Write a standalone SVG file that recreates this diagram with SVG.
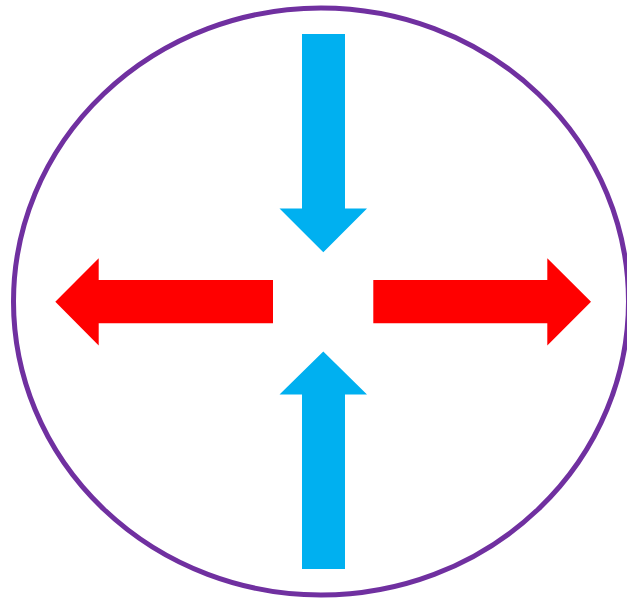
<svg xmlns="http://www.w3.org/2000/svg" width="627" height="600" viewBox="0 0 627 600">
<style>
.blue{fill:#00B0F0}
.red{fill:#FF0000}
.ring{fill:none;stroke:#7030A0;stroke-width:5}
</style>
<rect width="627" height="600" fill="#fff"/>
<g id="circle"><ellipse class="ring" cx="321" cy="301.5" rx="307.5" ry="293.5"/></g>
<g id="arrow-top"><polygon class="blue" points="302,34 345,34 345,208.5 367,208.5 323.3,252.3 279.5,208.5 302,208.5"/></g>
<g id="arrow-bottom"><polygon class="blue" points="302,569 345,569 345,394.5 367,394.5 323.3,351.5 279.5,394.5 302,394.5"/></g>
<g id="arrow-left"><polygon class="red" points="273,280 273,323.3 98.7,323.3 98.7,345.5 55.3,301.7 98.7,258.3 98.7,280"/></g>
<g id="arrow-right"><polygon class="red" points="373.3,280 373.3,323.3 547.3,323.3 547.3,345.5 591,301.7 547.3,258.3 547.3,280"/></g>
</svg>
